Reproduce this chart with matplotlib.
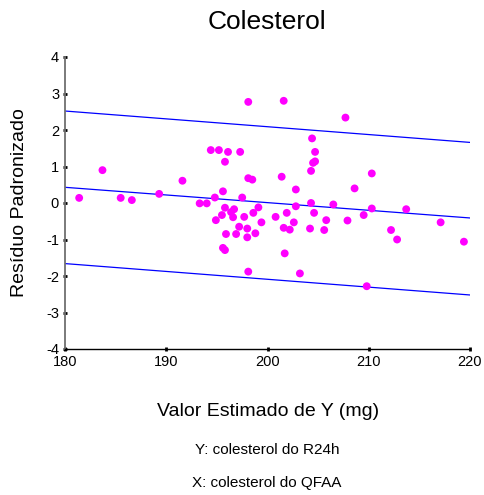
import matplotlib
matplotlib.use("Agg")
import matplotlib.pyplot as plt
import numpy as np

plt.rcParams['font.family'] = ['Liberation Sans', 'DejaVu Sans']
plt.rcParams['axes.unicode_minus'] = False

# predicted value (x) and standardized residual (y)
valor_estimado = [181.4, 183.7, 185.5, 186.6, 189.3, 191.6, 193.3, 194.0, 194.4, 195.2,
                  196.1, 197.3, 195.8, 198.1, 201.6, 204.4, 204.7, 204.7, 204.5, 204.3,
                  198.1, 198.5, 201.4, 202.8, 195.6, 194.8, 197.5, 204.3, 195.8, 196.7,
                  196.4, 199.1, 202.8, 195.5, 196.6, 197.7, 198.6, 194.9, 200.8, 201.9,
                  204.6, 205.8, 199.4, 202.6, 197.2, 198.0, 201.6, 202.2, 204.2, 205.6,
                  195.9, 196.9, 198.8, 198.0, 195.6, 195.8, 201.7, 198.1, 203.2, 207.7,
                  210.3, 208.6, 206.5, 210.3, 213.7, 207.9, 209.5, 212.2, 212.8, 217.1,
                  219.4, 209.8]
residuo = [0.14, 0.90, 0.14, 0.08, 0.25, 0.61, -0.01, -0.01, 1.45, 1.45,
           1.40, 1.40, 1.13, 2.77, 2.80, 1.77, 1.40, 1.14, 1.10, 0.88,
           0.68, 0.64, 0.72, 0.37, 0.32, 0.15, 0.15, 0.00, -0.13, -0.17,
           -0.25, -0.12, -0.09, -0.33, -0.39, -0.38, -0.27, -0.47, -0.38, -0.27,
           -0.27, -0.47, -0.53, -0.53, -0.65, -0.70, -0.68, -0.73, -0.70, -0.74,
           -0.85, -0.85, -0.83, -0.94, -1.23, -1.29, -1.38, -1.88, -1.93, 2.34,
           0.81, 0.40, -0.04, -0.15, -0.17, -0.48, -0.33, -0.74, -1.00, -0.53,
           -1.06, -2.28]

# fitted line and limits at x = 180 and x = 220
linha_x = [180, 220]
linha_centro = [0.43, -0.41]
linha_sup = [2.52, 1.66]
linha_inf = [-1.66, -2.52]

fig = plt.figure(figsize=(4.84, 4.95), dpi=100)
ax = fig.add_axes([65/484, 1 - 349/495, 405/484, 292/495])

for ys in (linha_sup, linha_centro, linha_inf):
    ax.plot(linha_x, ys, color='#0000FF', lw=0.9, zorder=2)
ax.scatter(valor_estimado, residuo, s=32, color='#FF00FF', edgecolors='none', zorder=3)

ax.set_xlim(180, 220)
ax.set_ylim(-4, 4)
ax.set_xticks([180, 190, 200, 210, 220])
ax.set_yticks(range(-4, 5))
ax.tick_params(direction='inout', length=2.5, width=2, labelsize=10.5, pad=3)
ax.spines['top'].set_visible(False)
ax.spines['right'].set_visible(False)
ax.spines['left'].set_color('#707070')
ax.spines['left'].set_linewidth(1.3)
ax.spines['bottom'].set_color('black')
ax.spines['bottom'].set_linewidth(1.0)

fig.text(267/484, 1 - 22/495, 'Colesterol', fontsize=19, ha='center', va='center')
fig.text(20/484, 1 - 203/495, 'Resíduo Padronizado', fontsize=14, rotation=90,
         ha='center', va='center')
fig.text(268/484, 1 - 411/495, 'Valor Estimado de Y (mg)', fontsize=14,
         ha='center', va='center')
fig.text(267/484, 1 - 450/495, 'Y: colesterol do R24h', fontsize=11,
         ha='center', va='center')
fig.text(267/484, 1 - 483/495, 'X: colesterol do QFAA', fontsize=11,
         ha='center', va='center')

fig.savefig('out.png', dpi=100)
